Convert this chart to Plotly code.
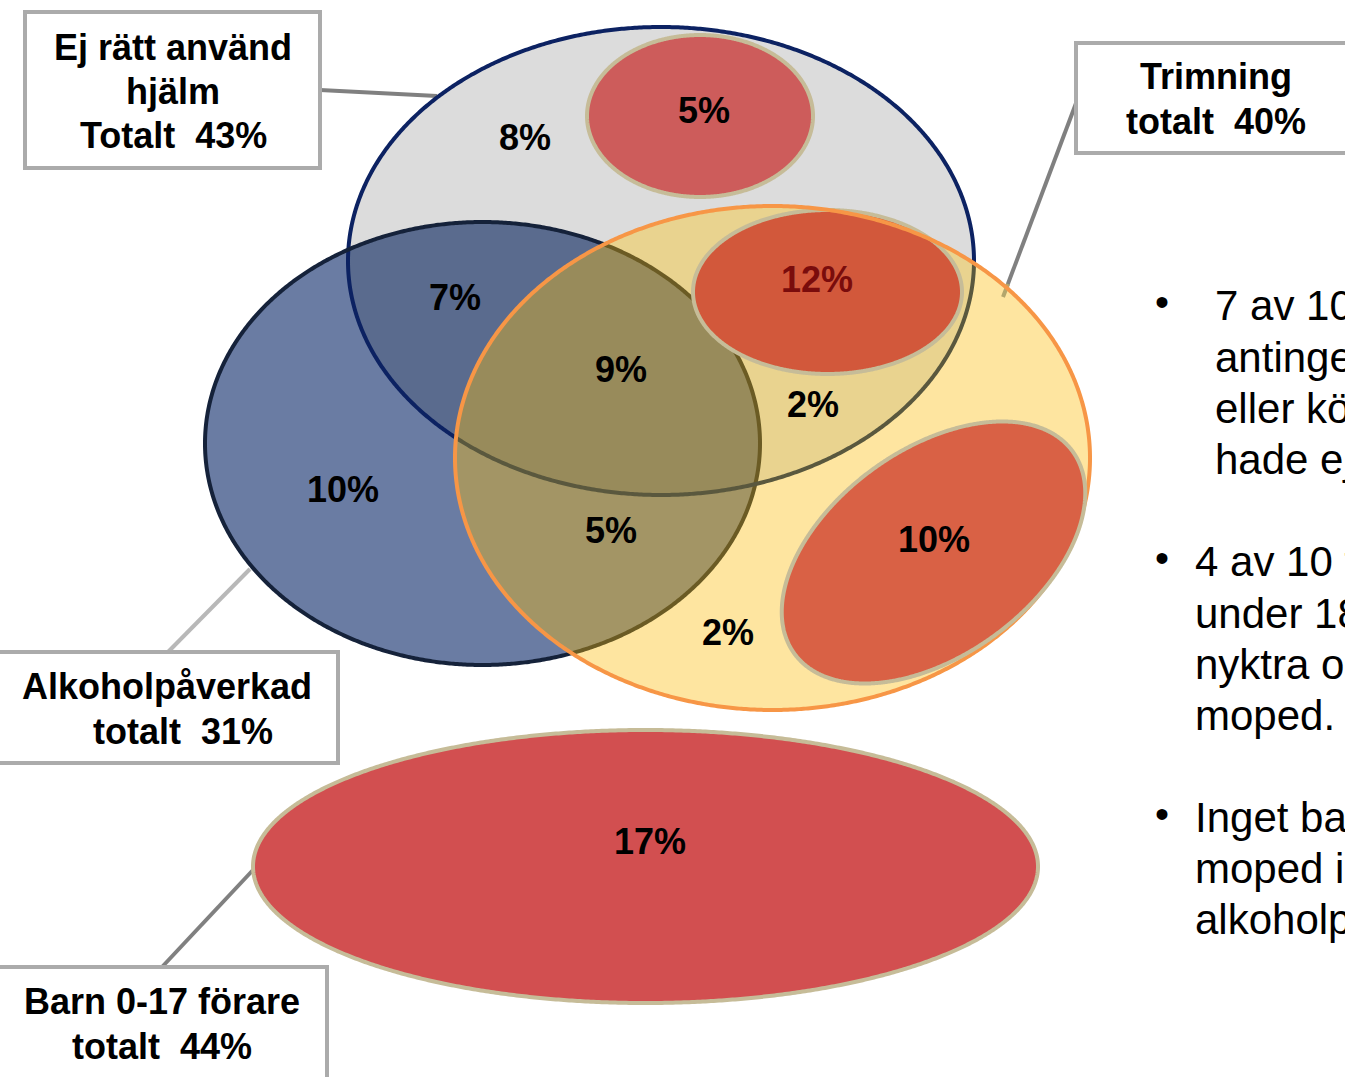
import numpy as np
import plotly.graph_objects as go

W, H = 1345, 1077

# ---------------- data ----------------
set_names = ["Ej rätt använd hjälm", "Trimning", "Alkoholpåverkad", "Barn 0-17 förare"]
set_totals = [43, 40, 31, 44]

region_names = ["Hjälm endast", "Hjälm (inre)", "Hjälm+Alkohol", "Hjälm+Trimning (inre)",
                "Alla tre", "Hjälm+Trimning", "Alkohol endast", "Alkohol+Trimning",
                "Trimning (inre)", "Trimning endast", "Barn"]
region_values = [8, 5, 7, 12, 9, 2, 10, 5, 10, 2, 17]

bullet_lines = [
    ["7 av 10 förare var", "antingen påverkade", "eller körde trimmad", "hade ej rätt använd hjälm"],
    ["4 av 10 förare", "under 18 år var", "nyktra och körde", "moped."],
    ["Inget barn körde", "moped i", "alkoholpåverkat tillstånd"],
]

# ---------------- geometry / style ----------------
FONT = "Liberation Sans, Arial, sans-serif"
E_GRAY = (661, 261, 313, 234, 0)
E_BLUE = (482.5, 443.5, 277.5, 221.5, 0)
E_YEL = (772.5, 458, 317.5, 252, 0)
E_5 = (700, 116, 113, 81, 0)
E_12 = (827.5, 292, 134.5, 82, 0)
E_10 = (933.5, 552.5, 172, 103, 36)
E_17 = (645.5, 866.5, 392.5, 136.5, 0)

region_pos = [(525, 137), (704, 110), (455, 297), (817, 279), (621, 369), (813, 404),
              (343, 489), (611, 530), (934, 539), (728, 632), (650, 841)]
region_colors = ["black", "black", "black", "#7a0c0c", "black", "black",
                 "black", "black", "black", "black", "black"]


def ell(E, n=900):
    cx, cy, rx, ry, ang = E
    t = np.linspace(0, 2 * np.pi, n, endpoint=False)
    a = np.deg2rad(ang)
    x = rx * np.cos(t)
    y = ry * np.sin(t)
    xs = cx + x * np.cos(a) + y * np.sin(a)
    ys = cy - x * np.sin(a) + y * np.cos(a)
    return xs, ys


def inside(px, py, E):
    cx, cy, rx, ry, ang = E
    a = np.deg2rad(ang)
    dx, dy = px - cx, py - cy
    x = dx * np.cos(a) - dy * np.sin(a)
    y = dx * np.sin(a) + dy * np.cos(a)
    return (x / rx) ** 2 + (y / ry) ** 2 <= 1.0


def path_of(xs, ys, close=True):
    s = "M " + " L ".join(f"{x:.2f},{y:.2f}" for x, y in zip(xs, ys))
    return s + (" Z" if close else "")


def intersection(Es):
    X, Y = [], []
    for i, E in enumerate(Es):
        xs, ys = ell(E)
        m = np.ones(len(xs), bool)
        for j, F in enumerate(Es):
            if i != j:
                m &= inside(xs, ys, F)
        X.append(xs[m]); Y.append(ys[m])
    X = np.concatenate(X); Y = np.concatenate(Y)
    cx, cy = X.mean(), Y.mean()
    order = np.argsort(np.arctan2(Y - cy, X - cx))
    return path_of(X[order], Y[order])


def arc_inside(E, F):
    xs, ys = ell(E)
    m = inside(xs, ys, F)
    k = int(np.argmin(m))  # first outside point
    xs, ys, m = np.roll(xs, -k), np.roll(ys, -k), np.roll(m, -k)
    return path_of(xs[m], ys[m], close=False)


shapes = []


def add_path(p, fill="rgba(0,0,0,0)", lc="rgba(0,0,0,0)", lw=0):
    shapes.append(dict(type="path", path=p, xref="x", yref="y", fillcolor=fill,
                       line=dict(color=lc, width=lw), layer="above"))


def add_line(x0, y0, x1, y1, c, w=4):
    shapes.append(dict(type="line", x0=x0, y0=y0, x1=x1, y1=y1, xref="x", yref="y",
                       line=dict(color=c, width=w), layer="above"))


def add_box(x0, y0, x1, y1):
    shapes.append(dict(type="rect", x0=x0, y0=y0, x1=x1, y1=y1, xref="x", yref="y",
                       fillcolor="white", line=dict(color="#ababab", width=4), layer="above"))


# connectors (below the ellipses)
add_line(320, 90, 437, 96, "#808080")
add_line(1078, 98, 1003, 297, "#808080")
add_line(168, 652, 250, 569, "#b8b8b8")
add_line(162, 967, 253, 870, "#808080")

# big sets
add_path(path_of(*ell(E_GRAY)), fill="#dcdcdc")
add_path(path_of(*ell(E_BLUE)), fill="#6a7ca3")
add_path(intersection([E_GRAY, E_BLUE]), fill="#5a6b8e")
add_path(path_of(*ell(E_GRAY)), lc="#0c2262", lw=4)
add_path(path_of(*ell(E_BLUE)), lc="#15223a", lw=4)
add_path(path_of(*ell(E_YEL)), fill="#fee5a0")
add_path(intersection([E_YEL, E_GRAY]), fill="#e9d38f")
add_path(intersection([E_YEL, E_BLUE]), fill="#a39565")
add_path(intersection([E_YEL, E_BLUE, E_GRAY]), fill="#988b5b")
add_path(arc_inside(E_BLUE, E_YEL), lc="#6b5b24", lw=4)
# tip of the Trimning connector, tinted by the yellow set
add_line(1008, 284, 1003, 297, "#b3a66c")

# inner red sets
TAN = "#c6bc98"
add_path(path_of(*ell(E_5)), fill="#cd5c5b", lc=TAN, lw=4)
add_path(path_of(*ell(E_12)), fill="#d2583b", lc=TAN, lw=4)
add_path(arc_inside(E_GRAY, E_YEL), lc="#5a583e", lw=4)
add_path(path_of(*ell(E_YEL)), lc="#f79646", lw=4)
add_path(path_of(*ell(E_10)), fill="#d96145", lc=TAN, lw=4)
add_path(path_of(*ell(E_17)), fill="#d24f50", lc=TAN, lw=4)

# label boxes
add_box(25, 12, 320, 168)
add_box(1076, 43, 1365, 153)
add_box(-10, 652, 338, 763)
add_box(-10, 967, 327, 1095)

annotations = []


def txt(x, y, s, size=36, bold=True, color="black", xanchor="center"):
    annotations.append(dict(x=x, y=y, xref="x", yref="y", text=(f"<b>{s}</b>" if bold else s),
                            showarrow=False, xanchor=xanchor, yanchor="middle",
                            font=dict(family=FONT, size=size, color=color)))


NB = "\u00a0"
for (x, y), v, c in zip(region_pos, region_values, region_colors):
    txt(x, y, f"{v}%", size=36, color=c)

# set labels
txt(173, 47, "Ej rätt använd")
txt(173, 91, "hjälm")
txt(173, 135, f"Totalt{NB} {set_totals[0]}%")
txt(1216, 76, set_names[1])
txt(1216, 121, f"totalt{NB} {set_totals[1]}%")
txt(167, 686, set_names[2])
txt(183, 731, f"totalt{NB} {set_totals[2]}%")
txt(162, 1001, set_names[3])
txt(162, 1046, f"totalt{NB} {set_totals[3]}%")

# bullet text on the right (cut by the page edge as in the original)
bullet_y = [[305, 357, 408, 459], [561, 613, 664, 715], [817, 868, 919]]
bullet_x = [1213, 1193, 1193]
for lines, ys, bx in zip(bullet_lines, bullet_y, bullet_x):
    txt(1153, ys[0] - 3, "•", size=40, bold=False, xanchor="left")
    for s, y in zip(lines, ys):
        txt(bx, y, s, size=42, bold=False, xanchor="left")

fig = go.Figure()
fig.update_layout(
    width=W, height=H,
    margin=dict(l=0, r=0, t=0, b=0),
    paper_bgcolor="white", plot_bgcolor="white",
    xaxis=dict(range=[0, W], visible=False, fixedrange=True),
    yaxis=dict(range=[H, 0], visible=False, fixedrange=True),
    shapes=shapes, annotations=annotations, showlegend=False,
)
fig.write_html("out.html", config={"displayModeBar": False},
               post_script="document.body.style.margin='0';")
